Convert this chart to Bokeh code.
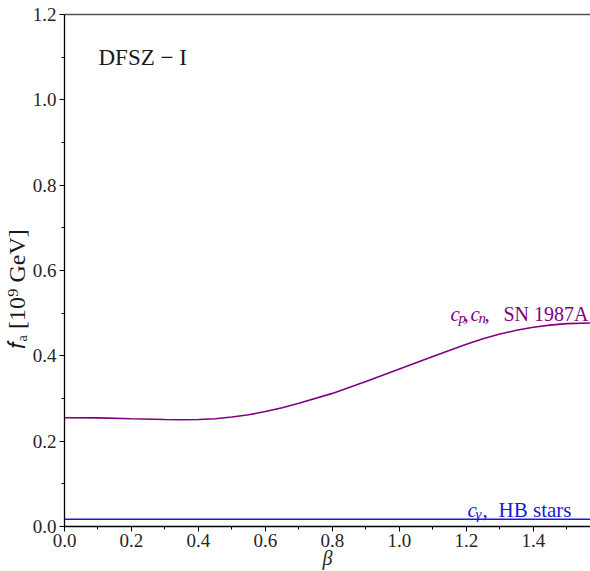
import numpy as np
from bokeh.plotting import figure
from bokeh.models import (Label, Range1d, FixedTicker, LinearAxis, Title,
                          NumeralTickFormatter)
from bokeh.embed import file_html
from bokeh.resources import INLINE

# ---- data -------------------------------------------------------------
beta = [0.0, 0.1, 0.2, 0.3, 0.35, 0.4, 0.45, 0.5, 0.55, 0.6, 0.65, 0.7,
        0.8, 0.9, 1.0, 1.1, 1.2, 1.25, 1.3, 1.35, 1.4, 1.45, 1.5, 1.5708]
fa_sn1987a = [0.255, 0.2545, 0.2525, 0.2508, 0.2503, 0.2508, 0.2525, 0.2565,
              0.2620, 0.2695, 0.2785, 0.2890, 0.3120, 0.3400, 0.3690,
              0.3985, 0.4270, 0.4400, 0.4510, 0.4600, 0.4670, 0.4720,
              0.4755, 0.4770]
beta_hb = [0.0, 1.5708]
fa_hb = [0.017, 0.017]

x_major = [0.0, 0.2, 0.4, 0.6, 0.8, 1.0, 1.2, 1.4]
x_minor = [0.1, 0.3, 0.5, 0.7, 0.9, 1.1, 1.3, 1.5]
y_major = [0.0, 0.2, 0.4, 0.6, 0.8, 1.0, 1.2]
y_minor = [0.1, 0.3, 0.5, 0.7, 0.9, 1.1]

X_END = np.pi / 2
Y_END = 1.2

# ---- frame geometry (pixels) -----------------------------------------
W, H = 590, 571
LEFT, TOP, RIGHT, BOTTOM = 64, 14, 0, 44
FW = W - LEFT - RIGHT
FH = H - TOP - BOTTOM
FONT = "Times New Roman"
PURPLE = "#800080"
BLUE = "#1a1ad6"
INK = "#1a1a1a"

p = figure(width=W, height=H, output_backend="svg", toolbar_location=None,
           x_range=Range1d(0, X_END), y_range=Range1d(0, Y_END + 1e-6),
           min_border_left=LEFT, min_border_right=RIGHT,
           min_border_top=TOP, min_border_bottom=BOTTOM)
p.outline_line_color = None
p.grid.visible = False
p.background_fill_color = "white"
p.border_fill_color = "white"

p.line(beta, fa_sn1987a, line_color=PURPLE, line_width=1.6)
p.line(beta_hb, fa_hb, line_color=BLUE, line_width=1.6)

for ax, standoff, major, minor in ((p.xaxis[0], 2, x_major, x_minor),
                                   (p.yaxis[0], 3, y_major, y_minor)):
    ax.ticker = FixedTicker(ticks=major, minor_ticks=minor)
    ax.formatter = NumeralTickFormatter(format="0.0")
    ax.axis_line_color = "black"
    ax.axis_line_width = 1.3
    ax.major_tick_line_color = "black"
    ax.minor_tick_line_color = "black"
    ax.major_tick_in = 0
    ax.major_tick_out = 5
    ax.minor_tick_in = 0
    ax.minor_tick_out = 3
    ax.major_label_text_font = FONT
    ax.major_label_text_font_size = "19px"
    ax.major_label_text_color = "#262626"
    ax.major_label_standoff = standoff

p.xaxis.axis_label = "\u03b2"
p.xaxis.axis_label_text_font = FONT
p.xaxis.axis_label_text_font_style = "italic"
p.xaxis.axis_label_text_font_size = "20px"
p.xaxis.axis_label_text_color = "#262626"
p.xaxis.axis_label_standoff = -3

# vertical title for f_a, starting a fixed distance above the frame's bottom
p.add_layout(Title(text="\U0001d453\u2090 [10\u2079 GeV]", align="left",
                   offset=178, standoff=0, text_font=FONT,
                   text_font_size="24px", text_font_style="normal",
                   text_color=INK), "left")

top_axis = LinearAxis(ticker=FixedTicker(ticks=[]), axis_line_color="#555555",
                      axis_line_width=1.5, major_tick_out=0, minor_tick_out=0)
p.add_layout(top_axis, "above")


def px_x(px):
    return (px - LEFT) / FW * X_END


def px_y(py):
    return (H - BOTTOM - py) / FH * Y_END


def put(text, px, py, size, color, style="normal", align="left"):
    p.add_layout(Label(x=px_x(px), y=px_y(py), text=text, text_font=FONT,
                       text_font_size=f"{size}px", text_color=color,
                       text_font_style=style, text_align=align,
                       text_baseline="alphabetic"))


# model tag
put("DFSZ \u2212 I", 98, 57, 23, INK)

# SN 1987A bound label
put("c", 450, 314, 21, PURPLE, "italic")
put("p", 458, 318, 15, PURPLE, "italic")
put(",", 463, 314, 21, PURPLE)
put("c", 470, 314, 21, PURPLE, "italic")
put("n", 478, 318, 15, PURPLE, "italic")
put(",", 484, 314, 21, PURPLE)
put("SN 1987A", 588, 314, 20, PURPLE, align="right")

# HB stars bound label
put("c", 467, 510, 21, BLUE, "italic")
put("\u03b3", 475, 514, 15, BLUE, "italic")
put(",", 482, 510, 21, BLUE)
put("HB stars", 571, 510, 21, BLUE, align="right")

open("out.html", "w").write(file_html(p, INLINE))
